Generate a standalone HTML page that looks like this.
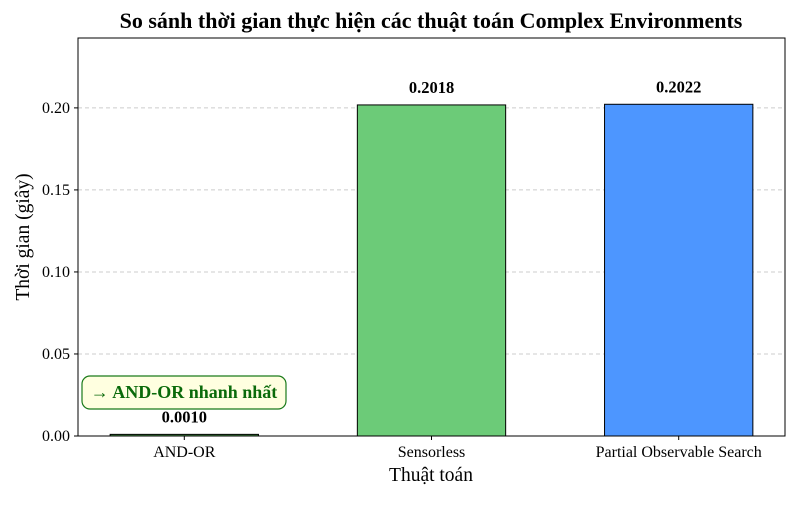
<!DOCTYPE html>
<html><head><meta charset="utf-8"><style>
body{margin:0;background:#fff}
svg text{font-family:"Liberation Serif","Noto Serif CJK SC",serif}
</style></head><body>
<svg id="c" width="800" height="500"></svg>
<script>
const categories=["AND-OR","Sensorless","Partial Observable Search"];
const values=[0.0010,0.2018,0.2022];
const valueLabels=["0.0010","0.2018","0.2022"];
const colors=["#4a9a4a","#6ccb78","#4d96ff"];
const yTicks=[0,0.05,0.10,0.15,0.20];
const yTickLabels=["0.00","0.05","0.10","0.15","0.20"];
const NS="http://www.w3.org/2000/svg";
const svg=document.getElementById('c');
const L=78,R=785,T=38,B=436,yMax=0.2426;
const xMin=-0.43,xMax=2.43;
function sx(v){return L+(v-xMin)/(xMax-xMin)*(R-L);}
function sy(v){return B-v/yMax*(B-T);}
function el(t,a,txt){const e=document.createElementNS(NS,t);for(const k in a)e.setAttribute(k,a[k]);if(txt!==undefined)e.textContent=txt;svg.appendChild(e);return e;}
yTicks.forEach((v,i)=>{
  if(v>0){const g=el('line',{x1:L,x2:R,y1:sy(v),y2:sy(v),stroke:'#ccc','stroke-dasharray':'4,3'});
  
  }
  el('line',{x1:L-4,x2:L,y1:sy(v),y2:sy(v),stroke:'#000'});
  const t=el('text',{x:L-8,y:sy(v)+5,'text-anchor':'end','font-size':16},yTickLabels[i]);
  
  
});
categories.forEach((c,i)=>{
  const w=(sx(0.3)-sx(-0.3));
  const b=el('rect',{x:sx(i)-w/2,y:sy(values[i]),width:w,height:Math.max(B-sy(values[i]),1),fill:colors[i],stroke:'#000','stroke-width':1});
  
  
  const v=el('text',{x:sx(i),y:sy(values[i])-12,'text-anchor':'middle','font-size':16.5,'font-weight':'bold'},valueLabels[i]);
  
  
  el('line',{x1:sx(i),x2:sx(i),y1:B,y2:B+4,stroke:'#000'});
  const t=el('text',{x:sx(i),y:B+21,'text-anchor':'middle','font-size':16},c);
  
  
});
const f=el('rect',{x:L,y:T,width:R-L,height:B-T,fill:'none',stroke:'#000'});


const bx=el('rect',{x:82,y:376,width:204,height:33,rx:8,fill:'#ffffe0',stroke:'#1a7a1a','stroke-width':1.2});


const at=el('text',{x:184,y:398,'text-anchor':'middle','font-size':18,'font-weight':'bold',fill:'#0a6a0a'},'→ AND-OR nhanh nhất');


const ti=el('text',{x:431,y:28,'text-anchor':'middle','font-size':22,'font-weight':'bold'},'So sánh thời gian thực hiện các thuật toán Complex Environments');


const xt=el('text',{x:431,y:481,'text-anchor':'middle','font-size':19.5},'Thuật toán');


const yt=el('text',{x:0,y:0,'text-anchor':'middle','font-size':19.5,transform:'translate(29,237) rotate(-90)'},'Thời gian (giây)');


</script>
</body></html>
